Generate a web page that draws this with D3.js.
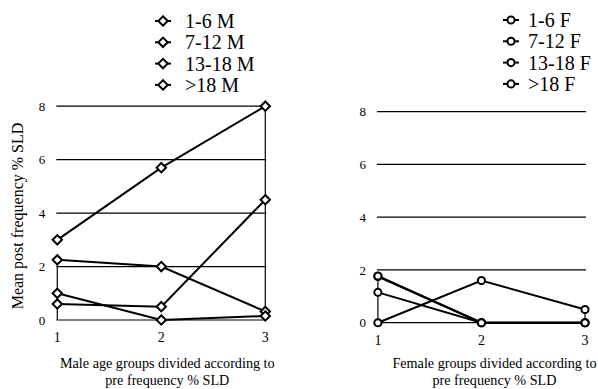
<!DOCTYPE html>
<html>
<head>
<meta charset="utf-8">
<script src="https://cdn.jsdelivr.net/npm/d3@7"></script>
<style>
  body { margin: 0; background: #fff; }
  svg text { font-family: "Liberation Serif", "Times New Roman", Times, serif; fill: #000; }
</style>
</head>
<body>
<div id="chart"></div>
<script>
// Data
var groups = [1, 2, 3];
var yTicks = [0, 2, 4, 6, 8];

var maleNames = ["1-6 M", "7-12 M", "13-18 M", ">18 M"];
var maleValues = [
  [3.0, 5.7, 8.0],
  [2.25, 2.0, 0.32],
  [1.0, 0.0, 0.15],
  [0.6, 0.5, 4.5]
];
// vertical lines at some groups (top value, down to 0)
var maleDrops = [[1, 2.25], [3, 8.0]];

var femaleNames = ["1-6 F", "7-12 F", "13-18 F", ">18 F"];
var femaleValues = [
  [1.75, 0.0, 0.0],
  [1.15, 0.0, 0.0],
  [1.77, 0.0, 0.0],
  [0.0, 1.6, 0.5]
];
var femaleDrops = [[1, 1.75], [3, 0.5]];

var svgWidth = 598;
var svgHeight = 389;

var svg = d3.select("#chart").append("svg")
    .attr("width", svgWidth)
    .attr("height", svgHeight);

function drawPanel(cfg) {
  var x = d3.scaleLinear().domain([1, 3]).range([cfg.x0, cfg.x1]);
  var y = d3.scaleLinear().domain([0, 8]).range([cfg.y0, cfg.y1]);
  var g = svg.append("g");

  // gridlines
  g.selectAll("line.grid")
    .data(yTicks)
    .enter()
    .append("line")
    .attr("x1", x(1) - 1)
    .attr("x2", x(3) + 1)
    .attr("y1", d => y(d))
    .attr("y2", d => y(d))
    .attr("stroke", "#000")
    .attr("stroke-width", 1.2);

  // y tick labels
  g.selectAll("text.ytick")
    .data(yTicks)
    .enter()
    .append("text")
    .attr("x", cfg.x0 - 12)
    .attr("y", d => y(d))
    .attr("dy", "0.35em")
    .attr("text-anchor", "end")
    .attr("font-size", "13px")
    .text(d => d);

  // x tick labels
  g.selectAll("text.xtick")
    .data(groups)
    .enter()
    .append("text")
    .attr("x", d => x(d))
    .attr("y", cfg.y0 + 17)
    .attr("dy", "0.35em")
    .attr("text-anchor", "middle")
    .attr("font-size", "14px")
    .text(d => d);

  // vertical lines
  g.selectAll("line.drop")
    .data(cfg.drops)
    .enter()
    .append("line")
    .attr("x1", d => x(d[0]))
    .attr("x2", d => x(d[0]))
    .attr("y1", d => y(d[1]))
    .attr("y2", y(0))
    .attr("stroke", "#000")
    .attr("stroke-width", 1.2);

  var line = d3.line()
    .x((d, i) => x(groups[i]))
    .y(d => y(d));

  g.selectAll("path.series")
    .data(cfg.values)
    .enter()
    .append("path")
    .attr("d", line)
    .attr("fill", "none")
    .attr("stroke", "#000")
    .attr("stroke-width", 2);

  cfg.values.forEach(function(vals) {
    g.selectAll(null)
      .data(vals)
      .enter()
      .append("path")
      .attr("d", cfg.symbol)
      .attr("transform", (d, i) => `translate(${x(groups[i])}, ${y(d)})`)
      .attr("fill", "#fff")
      .attr("stroke", "#000")
      .attr("stroke-width", 2);
  });

  // legend
  var leg = g.selectAll("g.legend")
    .data(cfg.names)
    .enter()
    .append("g")
    .attr("transform", (d, i) => `translate(${cfg.legX}, ${cfg.legY + i * 21.3})`);
  leg.append("line")
    .attr("x1", -8).attr("x2", 8)
    .attr("stroke", "#000")
    .attr("stroke-width", 2);
  leg.append("path")
    .attr("d", cfg.symbol)
    .attr("fill", "#fff")
    .attr("stroke", "#000")
    .attr("stroke-width", 2);
  leg.append("text")
    .attr("x", cfg.legText)
    .attr("dy", "0.35em")
    .attr("font-size", "20px")
    .text(d => d);

  // x axis title
  g.selectAll("text.title")
    .data(cfg.title)
    .enter()
    .append("text")
    .attr("x", (x(1) + x(3)) / 2 + cfg.titleShift)
    .attr("y", (d, i) => 363 + i * 17.5)
    .attr("dy", "0.35em")
    .attr("text-anchor", "middle")
    .attr("font-size", "14.2px")
    .text(d => d);
}

var diamond = d3.symbol().type(d3.symbolDiamond2).size(56)();
var circle = d3.symbol().type(d3.symbolCircle).size(40)();

drawPanel({
  x0: 57.3, x1: 265.3, y0: 320, y1: 106.2,
  values: maleValues, names: maleNames, drops: maleDrops,
  symbol: diamond, legX: 163, legY: 21, legText: 22,
  title: ["Male age groups divided according to", "pre frequency % SLD"],
  titleShift: 6
});

drawPanel({
  x0: 377.9, x1: 585, y0: 322.7, y1: 111.7,
  values: femaleValues, names: femaleNames, drops: femaleDrops,
  symbol: circle, legX: 511, legY: 20, legText: 17,
  title: ["Female groups divided according to", "pre frequency % SLD"],
  titleShift: 13
});

// y axis title
svg.append("text")
  .attr("transform", "translate(17, 216) rotate(-90)")
  .attr("dy", "0.35em")
  .attr("text-anchor", "middle")
  .attr("font-size", "16px")
  .text("Mean post frequency % SLD");
</script>
</body>
</html>
